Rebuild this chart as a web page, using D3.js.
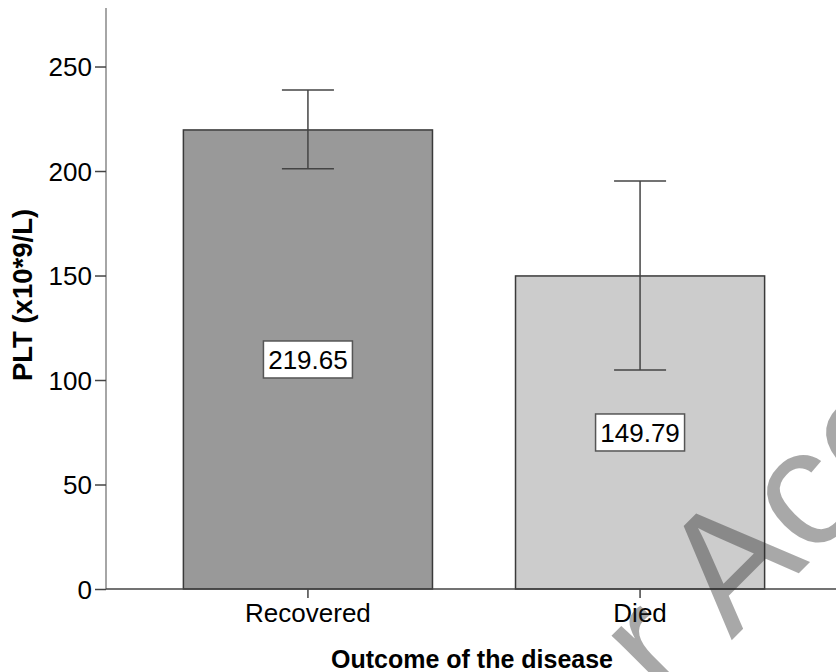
<!DOCTYPE html>
<html>
<head>
<meta charset="utf-8">
<script src="https://cdn.jsdelivr.net/npm/d3@7"></script>
<style>
html,body{margin:0;padding:0;background:#fff;}
svg{display:block;}
text{font-family:"Liberation Sans",Arial,sans-serif;}
</style>
</head>
<body>
<svg id="chart" width="836" height="672"></svg>
<script>
const categories = ["Recovered", "Died"];
const means = [219.65, 149.79];
const errLow = [201.1, 104.8];
const errHigh = [238.8, 195.2];
const meanLabels = ["219.65", "149.79"];
const barColors = ["#999999", "#cccccc"];
const yTicks = [0, 50, 100, 150, 200, 250];
const yTitle = "PLT (x10*9/L)";
const xTitle = "Outcome of the disease";
const watermark = "r Acc";

const svg = d3.select("#chart");
const x = d3.scaleBand().domain(categories).range([106, 842]).paddingInner(0.25).paddingOuter(0.233);
const y = d3.scaleLinear().domain([0, 278]).range([589, 8]);

// bars
svg.selectAll("rect.bar").data(categories).enter().append("rect")
  .attr("class", "bar")
  .attr("x", d => x(d))
  .attr("width", x.bandwidth())
  .attr("y", (d, i) => y(means[i]))
  .attr("height", (d, i) => y(0) - y(means[i]))
  .attr("fill", (d, i) => barColors[i])
  .attr("stroke", "#3a3a3a")
  .attr("stroke-width", 1.5);

// error bars
const capW = 52;
const eg = svg.selectAll("g.err").data(categories).enter().append("g").attr("class", "err");
eg.append("line")
  .attr("x1", d => x(d) + x.bandwidth() / 2).attr("x2", d => x(d) + x.bandwidth() / 2)
  .attr("y1", (d, i) => y(errLow[i])).attr("y2", (d, i) => y(errHigh[i]))
  .attr("stroke", "#444").attr("stroke-width", 1.5);
eg.append("line")
  .attr("x1", d => x(d) + x.bandwidth() / 2 - capW / 2).attr("x2", d => x(d) + x.bandwidth() / 2 + capW / 2)
  .attr("y1", (d, i) => y(errHigh[i])).attr("y2", (d, i) => y(errHigh[i]))
  .attr("stroke", "#444").attr("stroke-width", 1.5);
eg.append("line")
  .attr("x1", d => x(d) + x.bandwidth() / 2 - capW / 2).attr("x2", d => x(d) + x.bandwidth() / 2 + capW / 2)
  .attr("y1", (d, i) => y(errLow[i])).attr("y2", (d, i) => y(errLow[i]))
  .attr("stroke", "#444").attr("stroke-width", 1.5);

// value labels in boxes
const lg = svg.selectAll("g.lab").data(categories).enter().append("g").attr("class", "lab")
  .attr("transform", (d, i) => `translate(${x(d) + x.bandwidth() / 2},${y(means[i] / 2)})`);
lg.append("rect")
  .attr("x", -44.5).attr("y", -18.5).attr("width", 89).attr("height", 37)
  .attr("fill", "#fff").attr("stroke", "#555").attr("stroke-width", 1.5);
lg.append("text")
  .attr("text-anchor", "middle").attr("y", 9.5)
  .attr("font-size", 26).attr("fill", "#000")
  .text((d, i) => meanLabels[i]);

// y axis
const yAxis = d3.axisLeft(y).tickValues(yTicks).tickSize(11).tickPadding(3).tickFormat(d3.format("d"));
const gy = svg.append("g").attr("transform", "translate(106,0)").call(yAxis);
gy.select(".domain").attr("stroke", "#888").attr("stroke-width", 1.5).attr("d", `M0,${y(278)}V${y(0)}`);
gy.selectAll(".tick line").attr("stroke", "#444").attr("stroke-width", 1.5);
gy.selectAll(".tick text").attr("font-size", 26).attr("fill", "#000")
  .attr("font-family", "'Liberation Sans', Arial, sans-serif").attr("dy", "0.35em");

// x axis
const xAxis = d3.axisBottom(x).tickSize(9).tickPadding(6);
const gx = svg.append("g").attr("transform", `translate(0,${y(0)})`).call(xAxis);
gx.select(".domain").attr("stroke", "#444").attr("stroke-width", 1.5).attr("d", "M106,0H836");
gx.selectAll(".tick line").attr("stroke", "#444").attr("stroke-width", 1.5);
gx.selectAll(".tick text").attr("font-size", 26).attr("fill", "#000")
  .attr("font-family", "'Liberation Sans', Arial, sans-serif").attr("dy", "0.71em");

// titles
svg.append("text")
  .attr("transform", "translate(32,295) rotate(-90)")
  .attr("text-anchor", "middle").attr("font-size", 27.5).attr("font-weight", "bold")
  .text(yTitle);
svg.append("text")
  .attr("x", 472).attr("y", 668)
  .attr("text-anchor", "middle").attr("font-size", 25).attr("font-weight", "bold")
  .text(xTitle);

// watermark
svg.append("text")
  .attr("transform", "translate(666,706) rotate(-45)")
  .attr("font-size", 167).attr("fill", "#262626").attr("fill-opacity", 0.4)
  .text(watermark);
</script>
</body>
</html>
